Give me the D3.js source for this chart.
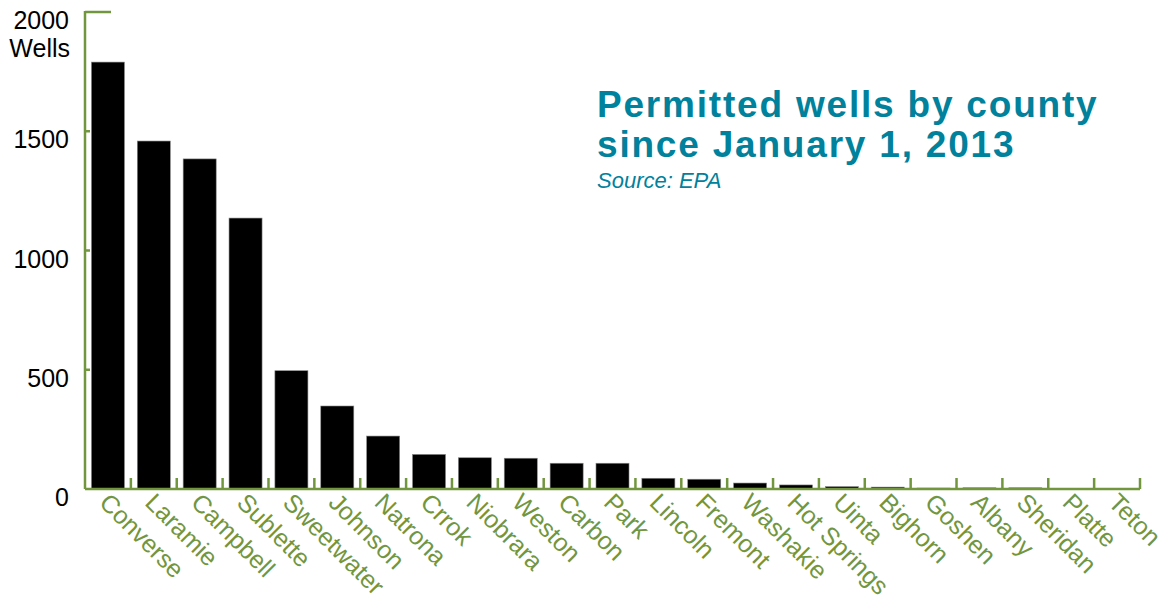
<!DOCTYPE html>
<html>
<head>
<meta charset="utf-8">
<script src="https://cdn.jsdelivr.net/npm/d3@7"></script>
<style>
  body { margin: 0; background: #fff; }
  text { font-family: "Liberation Sans", Arial, Helvetica, sans-serif; }
</style>
</head>
<body>
<div id="root"></div>
<script>
var counties = ['Converse', 'Laramie', 'Campbell', 'Sublette', 'Sweetwater', 'Johnson',
  'Natrona', 'Crrok', 'Niobrara', 'Weston', 'Carbon', 'Park', 'Lincoln', 'Fremont',
  'Washakie', 'Hot Springs', 'Uinta', 'Bighorn', 'Goshen', 'Albany', 'Sheridan',
  'Platte', 'Teton'];
var wells = [1790, 1459, 1384, 1136, 496, 348, 222, 145, 131, 129, 108, 108, 45, 41,
  25, 17, 10, 8, 4, 5, 5, 0, 0];
var yTicks = [0, 500, 1000, 1500, 2000];

var w = 1168,
    h = 608;

var green = '#72963e',
    teal = '#00819c';

var mLeft = 85,
    mRight = 1140,
    mTop = 12,
    mBottom = 489;

var svg = d3.select('#root')
  .append('svg')
    .attr('width', w)
    .attr('height', h);

var x = d3.scaleBand()
  .domain(counties)
  .range([mLeft, mRight])
  .paddingInner(0.28)
  .paddingOuter(0.14);

var y = d3.scaleLinear()
  .domain([0, 2000])
  .range([mBottom, mTop]);

// bars
svg.selectAll('.bar')
    .data(counties)
  .enter().append('rect')
    .attr('class', 'bar')
    .attr('x', function (d) { return x(d); })
    .attr('width', x.bandwidth())
    .attr('y', function (d, i) { return y(wells[i]); })
    .attr('height', function (d, i) { return y(0) - y(wells[i]); })
    .attr('fill', '#000')
    .attr('stroke', '#888')
    .attr('stroke-width', 0.6);

// y axis line and ticks
svg.append('line')
    .attr('x1', mLeft).attr('x2', mLeft)
    .attr('y1', y(2000) - 1).attr('y2', y(0))
    .attr('stroke', green)
    .attr('stroke-width', 2.5);

svg.selectAll('.ytick')
    .data(yTicks.slice(1))
  .enter().append('line')
    .attr('class', 'ytick')
    .attr('x1', mLeft)
    .attr('x2', function (d) { return d === 2000 ? mLeft + 26 : mLeft + 5; })
    .attr('y1', function (d) { return y(d); })
    .attr('y2', function (d) { return y(d); })
    .attr('stroke', green)
    .attr('stroke-width', 2.5);

// tick labels sit just below their tick
svg.selectAll('.ylabel')
    .data(yTicks)
  .enter().append('text')
    .attr('class', 'ylabel')
    .attr('x', 69)
    .attr('y', function (d) { return y(d) + 17; })
    .attr('text-anchor', 'end')
    .style('font-size', '25px')
    .style('fill', '#000')
    .text(function (d) { return d; });

svg.append('text')
    .attr('x', 70)
    .attr('y', 57)
    .attr('text-anchor', 'end')
    .style('font-size', '25px')
    .style('fill', '#000')
    .text('Wells');

// x axis line and ticks between bars
svg.append('line')
    .attr('x1', mLeft).attr('x2', mRight)
    .attr('y1', y(0)).attr('y2', y(0))
    .attr('stroke', green)
    .attr('stroke-width', 2.5);

var step = x.step(),
    outer = x(counties[0]) - mLeft;
svg.selectAll('.xtick')
    .data(counties)
  .enter().append('line')
    .attr('class', 'xtick')
    .attr('x1', function (d) { return x(d) - outer + step; })
    .attr('x2', function (d) { return x(d) - outer + step; })
    .attr('y1', y(0))
    .attr('y2', y(0) - 11)
    .attr('stroke', green)
    .attr('stroke-width', 2.5);

svg.selectAll('.xlabel')
    .data(counties)
  .enter().append('text')
    .attr('class', 'xlabel')
    .attr('transform', function (d) {
      return 'translate(' + (x(d) + x.bandwidth() / 2 - 10) + ',' + (y(0) + 15) + ') rotate(45)';
    })
    .attr('text-anchor', 'start')
    .style('font-size', '25px')
    .style('fill', green)
    .text(function (d) { return d; });

// title
svg.append('text')
    .attr('x', 597)
    .attr('y', 117)
    .style('font-size', '37px')
    .style('font-weight', 'bold')
    .style('letter-spacing', '1.8px')
    .style('fill', teal)
    .text('Permitted wells by county');

svg.append('text')
    .attr('x', 597)
    .attr('y', 157)
    .style('font-size', '37px')
    .style('font-weight', 'bold')
    .style('letter-spacing', '1.8px')
    .style('fill', teal)
    .text('since January 1, 2013');

svg.append('text')
    .attr('x', 597)
    .attr('y', 188)
    .style('font-size', '22px')
    .style('font-style', 'italic')
    .style('fill', teal)
    .text('Source: EPA');
</script>
</body>
</html>
